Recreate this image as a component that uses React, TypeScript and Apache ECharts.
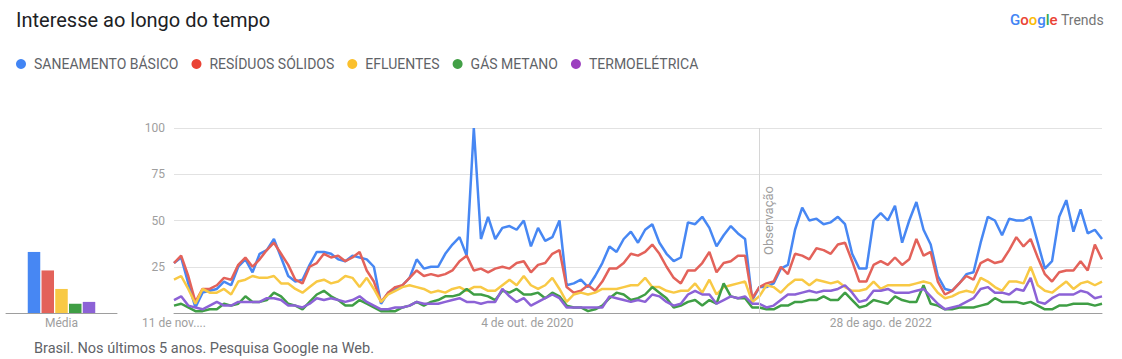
import React, { useEffect, useRef } from "react";
import * as echarts from "echarts";

const seriesNames = ["SANEAMENTO BÁSICO", "RESÍDUOS SÓLIDOS", "EFLUENTES", "GÁS METANO", "TERMOELÉTRICA"];
const lineColors = ["#4787f3", "#e3625a", "#f8c945", "#3f9e45", "#8c62d6"];
const legendColors = ["#4285F4", "#EA4335", "#FBC02D", "#43A047", "#9C3FBF"];

// one value every two weeks, from 11 Nov 2018
const weekStep = 2;
const saneamento = [27, 30, 16, 3, 11, 12, 13, 17, 15, 25, 29, 22, 32, 34, 40, 30, 20, 17, 18, 26, 33, 33, 32, 29, 28, 31, 30, 29, 25, 5,
  11, 13, 15, 19, 29, 24, 25, 25, 32, 37, 41, 31, 100, 40, 52, 40, 46, 47, 45, 50, 36, 46, 39, 41, 50, 15, 16, 18, 14, 20,
  27, 36, 33, 40, 44, 38, 45, 48, 38, 32, 28, 30, 49, 48, 52, 46, 36, 42, 47, 43, 40, 7, 14, 14, 16, 24, 26, 45, 57, 50,
  51, 48, 49, 52, 48, 32, 24, 24, 50, 54, 50, 58, 38, 50, 60, 45, 37, 20, 13, 12, 16, 21, 22, 38, 52, 50, 42, 51, 50, 50,
  52, 38, 24, 28, 52, 61, 44, 56, 43, 45, 40];
const residuos = [27, 31, 20, 6, 13, 13, 15, 19, 18, 26, 30, 25, 29, 34, 38, 32, 26, 18, 16, 25, 27, 32, 30, 31, 28, 30, 33, 23, 17, 6,
  11, 14, 15, 19, 23, 20, 21, 20, 21, 23, 28, 31, 23, 24, 22, 24, 25, 24, 27, 28, 22, 26, 27, 32, 34, 14, 11, 12, 15, 12,
  17, 24, 24, 27, 32, 31, 33, 37, 32, 25, 19, 16, 23, 23, 27, 33, 22, 27, 28, 31, 31, 8, 14, 16, 17, 25, 21, 32, 31, 29,
  35, 34, 32, 37, 38, 28, 17, 17, 26, 28, 26, 30, 26, 29, 40, 31, 33, 17, 10, 12, 16, 20, 18, 27, 29, 27, 28, 34, 41, 36,
  40, 30, 21, 17, 22, 23, 23, 28, 23, 37, 29];
const efluentes = [18, 20, 13, 5, 13, 11, 11, 13, 10, 17, 18, 20, 19, 19, 20, 16, 16, 13, 11, 14, 17, 18, 16, 17, 20, 19, 14, 19, 13, 6,
  10, 12, 14, 15, 14, 13, 11, 12, 11, 13, 14, 12, 14, 14, 12, 12, 15, 18, 15, 20, 15, 13, 15, 19, 13, 6, 10, 11, 10, 11,
  13, 13, 13, 14, 15, 15, 19, 14, 14, 12, 11, 12, 12, 16, 11, 18, 10, 14, 15, 16, 17, 6, 9, 15, 14, 11, 15, 18, 18, 15,
  18, 17, 16, 17, 14, 12, 12, 13, 17, 13, 15, 15, 15, 15, 16, 17, 16, 11, 8, 9, 11, 12, 11, 19, 17, 14, 12, 17, 17, 16,
  25, 15, 12, 11, 14, 17, 13, 16, 17, 15, 17];
const gasMetano = [4, 5, 3, 1, 1, 2, 2, 5, 4, 5, 9, 6, 6, 7, 11, 9, 5, 4, 2, 6, 10, 12, 9, 7, 4, 4, 7, 5, 3, 1,
  1, 1, 3, 4, 6, 4, 6, 7, 9, 9, 10, 13, 10, 10, 9, 7, 12, 11, 13, 10, 10, 11, 8, 11, 9, 4, 3, 3, 1, 2,
  4, 8, 11, 10, 7, 8, 10, 14, 11, 8, 3, 4, 6, 7, 4, 7, 5, 16, 9, 8, 8, 3, 3, 2, 2, 4, 4, 6, 6, 7,
  7, 9, 7, 7, 11, 7, 3, 4, 7, 6, 5, 9, 7, 6, 6, 15, 5, 4, 2, 2, 3, 3, 3, 4, 5, 8, 6, 6, 6, 5,
  6, 4, 2, 2, 4, 4, 5, 5, 5, 4, 5];
const termoeletrica = [7, 9, 4, 3, 2, 4, 6, 4, 4, 6, 6, 6, 6, 8, 8, 7, 4, 4, 3, 5, 8, 7, 8, 7, 6, 7, 9, 6, 4, 2,
  2, 3, 3, 4, 6, 5, 5, 5, 6, 7, 8, 6, 6, 5, 6, 6, 13, 9, 6, 8, 4, 6, 8, 10, 8, 3, 3, 3, 3, 3,
  3, 9, 8, 7, 6, 7, 6, 10, 9, 6, 4, 5, 10, 12, 10, 10, 5, 7, 9, 8, 9, 5, 5, 3, 4, 7, 10, 10, 11, 12,
  11, 12, 12, 13, 15, 11, 6, 7, 12, 12, 13, 11, 11, 11, 12, 13, 9, 5, 2, 3, 4, 6, 8, 13, 14, 11, 11, 10, 13, 12,
  19, 6, 5, 8, 10, 10, 10, 12, 11, 8, 9];
const averages = [33, 23, 13, 5, 6];

const xMaxWeek = 260;
const xTickWeeks = [0, 99, 198];
const xTickLabels = ["11 de nov....", "4 de out. de 2020", "28 de ago. de 2022"];
const noteWeek = 163.86;
const noteLabel = "Observação";
const yTicks = [0, 25, 50, 75, 100];

export default function App() {
  const ref = useRef<HTMLDivElement>(null);
  useEffect(() => {
    const chart = echarts.init(ref.current!, null, { renderer: "svg" });
    const allData = [saneamento, residuos, efluentes, gasMetano, termoeletrica];
    const lineSeries = allData.map((arr, k) => ({
      name: seriesNames[k],
      type: "line",
      xAxisIndex: 0,
      yAxisIndex: 0,
      data: arr.map((v, i) => [i * weekStep, v]),
      showSymbol: false,
      symbol: "none",
      lineStyle: { width: 2.5, color: lineColors[k] },
      itemStyle: { color: lineColors[k] },
      z: 3,
      ...(k === 0
        ? {
            markLine: {
              silent: true,
              symbol: "none",
              animation: false,
              data: [{ xAxis: noteWeek }],
              lineStyle: { color: "#d6d6d6", width: 1, type: "solid" },
              label: {
                show: true,
                formatter: noteLabel,
                position: "insideMiddleBottom",
                color: "#9e9e9e",
                fontSize: 13,
                distance: 3,
              },
            },
          }
        : {}),
    }));
    const barSeries = averages.map((v, k) => ({
      name: "avg-" + seriesNames[k],
      type: "bar",
      xAxisIndex: 1,
      yAxisIndex: 1,
      data: [v],
      barWidth: 12.5,
      barGap: "10%",
      itemStyle: { color: lineColors[k] },
    }));
    const option = {
      animation: false,
      textStyle: { fontFamily: "Roboto, sans-serif" },
      title: {
        text: "Interesse ao longo do tempo",
        left: 11,
        top: 3,
        textStyle: { fontSize: 20, fontWeight: 400, color: "#202124", lineHeight: 24, fontFamily: "Roboto" },
      },
      legend: {
        data: seriesNames.map((n, k) => ({ name: n, itemStyle: { color: legendColors[k] } })),
        left: 11,
        top: 51,
        icon: "circle",
        itemWidth: 16,
        itemHeight: 10,
        itemGap: 13,
        selectedMode: false,
        textStyle: { fontSize: 14, color: "#5f6368", lineHeight: 16, fontFamily: "Roboto" },
      },
      grid: [
        { left: 174, right: 20, top: 128, bottom: 46 },
        { left: 6, width: 111, top: 128, bottom: 46 },
      ],
      xAxis: [
        {
          type: "value",
          gridIndex: 0,
          min: 0,
          max: xMaxWeek,
          interval: 99,
          splitLine: { show: false },
          axisTick: { show: false },
          axisLine: { lineStyle: { color: "#9e9e9e", width: 1 } },
          axisLabel: {
            showMaxLabel: false,
            color: "#9e9e9e",
            fontSize: 12,
            margin: 4,
            formatter: (v: number) => {
              const idx = xTickWeeks.indexOf(Math.round(v));
              return idx >= 0 ? xTickLabels[idx] : "";
            },
          },
        },
        {
          type: "category",
          gridIndex: 1,
          data: ["Média"],
          axisTick: { show: false },
          axisLine: { lineStyle: { color: "#9e9e9e", width: 1 } },
          axisLabel: { color: "#9e9e9e", fontSize: 12, margin: 4 },
        },
      ],
      yAxis: [
        {
          type: "value",
          gridIndex: 0,
          min: yTicks[0],
          max: yTicks[yTicks.length - 1],
          interval: 25,
          axisLine: { show: false },
          axisTick: { show: false },
          splitLine: { lineStyle: { color: "#e2e2e2", width: 1 } },
          axisLabel: {
            color: "#9e9e9e",
            fontSize: 12,
            margin: 9,
            formatter: (v: number) => (v === 0 ? "" : String(v)),
          },
        },
        {
          type: "value",
          gridIndex: 1,
          min: yTicks[0],
          max: yTicks[yTicks.length - 1],
          show: false,
          splitLine: { show: false },
        },
      ],
      graphic: [
        {
          type: "text",
          left: 1010,
          top: 12,
          style: {
            text: "{b|G}{r|o}{y|o}{b|g}{g|l}{r|e} {t|Trends}",
            rich: {
              b: { fill: "#4285F4", fontSize: 15, fontWeight: 500, fontFamily: "Roboto" },
              r: { fill: "#EA4335", fontSize: 15, fontWeight: 500, fontFamily: "Roboto" },
              y: { fill: "#FBBC05", fontSize: 15, fontWeight: 500, fontFamily: "Roboto" },
              g: { fill: "#34A853", fontSize: 15, fontWeight: 500, fontFamily: "Roboto" },
              t: { fill: "#757575", fontSize: 14, fontFamily: "Roboto" },
            },
          },
        },
        {
          type: "text",
          left: 34,
          top: 341,
          style: {
            text: "Brasil. Nos últimos 5 anos. Pesquisa Google na Web.",
            fill: "#5f6368",
            fontSize: 14.5,
            fontFamily: "Roboto",
          },
        },
      ],
      series: [...lineSeries, ...barSeries],
    };
    chart.setOption(option as any);
    return () => chart.dispose();
  }, []);
  return (
    <div
      ref={ref}
      style={{ position: "absolute", left: 0, top: 0, width: 1122, height: 359, background: "#fff" }}
    />
  );
}
